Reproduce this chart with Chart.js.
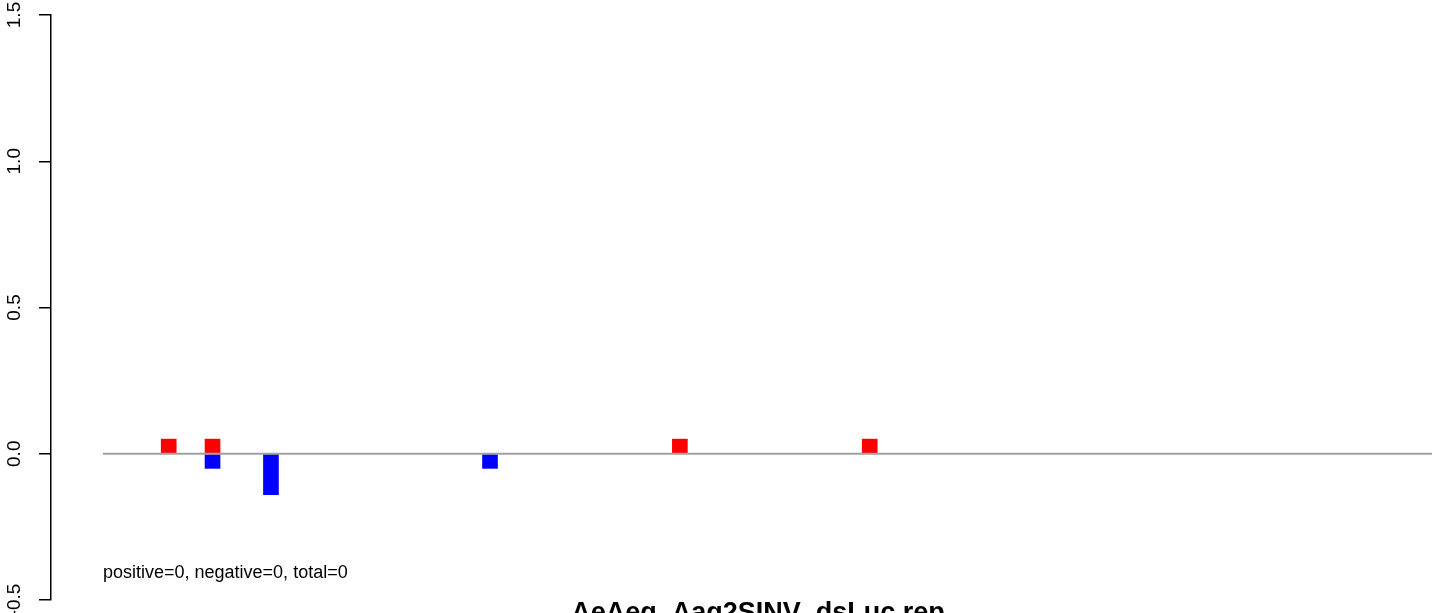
<!DOCTYPE html>
<html>
<head>
<meta charset="utf-8">
<script src="https://cdn.jsdelivr.net/npm/chart.js@4.4.0/dist/chart.umd.min.js"></script>
<style>
  html, body { margin: 0; padding: 0; background: #fff; }
  #wrap { width: 1444px; height: 613px; position: relative; }
</style>
</head>
<body>
<div id="wrap"><canvas id="chart"></canvas></div>
<script>
// data
const posPositions = [5, 8, 40, 53];
const posValues = [0.05, 0.05, 0.05, 0.05];
const negPositions = [8, 12, 27];
const negValues = [-0.05, -0.14, -0.05];
const baseStart = 0.5;
const baseEnd = 91.5;
const yTicks = [-0.5, 0, 0.5, 1.0, 1.5];
const titleText = "AeAeg_Aag2SINV_dsLuc.rep";
const noteText = "positive=0, negative=0, total=0";

const font = "'Liberation Sans', Arial, Helvetica, sans-serif";

// R style text: rotated y labels, note and bottom title
const textPlugin = {
    id: "rTexts",
    afterDraw(c) {
        const ctx = c.ctx;
        const y = c.scales.y;
        ctx.save();
        ctx.fillStyle = "#000";
        ctx.font = "19px " + font;
        ctx.textAlign = "center";
        ctx.textBaseline = "middle";
        yTicks.forEach(v => {
            ctx.save();
            ctx.translate(15, y.getPixelForValue(v));
            ctx.rotate(-Math.PI / 2);
            ctx.fillText(v.toFixed(1), 0, 0);
            ctx.restore();
        });

        ctx.font = "18px " + font;
        ctx.textAlign = "left";
        ctx.textBaseline = "alphabetic";
        ctx.fillText(noteText, c.scales.x.getPixelForValue(baseStart), 578);

        ctx.font = "bold 27px " + font;
        ctx.textAlign = "center";
        ctx.fillText(titleText, 758, 621);
        ctx.restore();
    }
};

const ctx = document.getElementById("chart");

new Chart(ctx, {
    type: "bar",
    data: {
        datasets: [
            {
                type: "line",
                data: [{x: baseStart, y: 0}, {x: baseEnd, y: 0}],
                borderColor: "#a0a0a0",
                borderWidth: 2,
                pointRadius: 0,
                order: 0
            },
            {
                data: posPositions.map((p, i) => ({x: p, y: posValues[i]})),
                backgroundColor: "#ff0000",
                barThickness: 15,
                grouped: false,
                order: 1
            },
            {
                data: negPositions.map((p, i) => ({x: p, y: negValues[i]})),
                backgroundColor: "#0000ff",
                barThickness: 15,
                grouped: false,
                order: 1
            }
        ]
    },
    options: {
        responsive: true,
        maintainAspectRatio: false,
        animation: false,
        layout: { padding: { top: 15, bottom: 13, left: 0, right: 12 } },
        plugins: {
            legend: { display: false },
            tooltip: { enabled: false },
            title: { display: false }
        },
        scales: {
            x: {
                type: "linear",
                display: false,
                offset: false,
                min: -3.06,
                max: baseEnd
            },
            y: {
                min: -0.5,
                max: 1.5,
                afterFit: s => { s.width = 51; },
                afterBuildTicks: s => { s.ticks = yTicks.map(v => ({value: v})); },
                ticks: { display: false },
                grid: {
                    drawOnChartArea: false,
                    drawTicks: true,
                    tickLength: 12,
                    color: "#000",
                    lineWidth: 1.5
                },
                border: { display: true, color: "#000", width: 1.5 }
            }
        }
    },
    plugins: [textPlugin]
});
</script>
</body>
</html>
